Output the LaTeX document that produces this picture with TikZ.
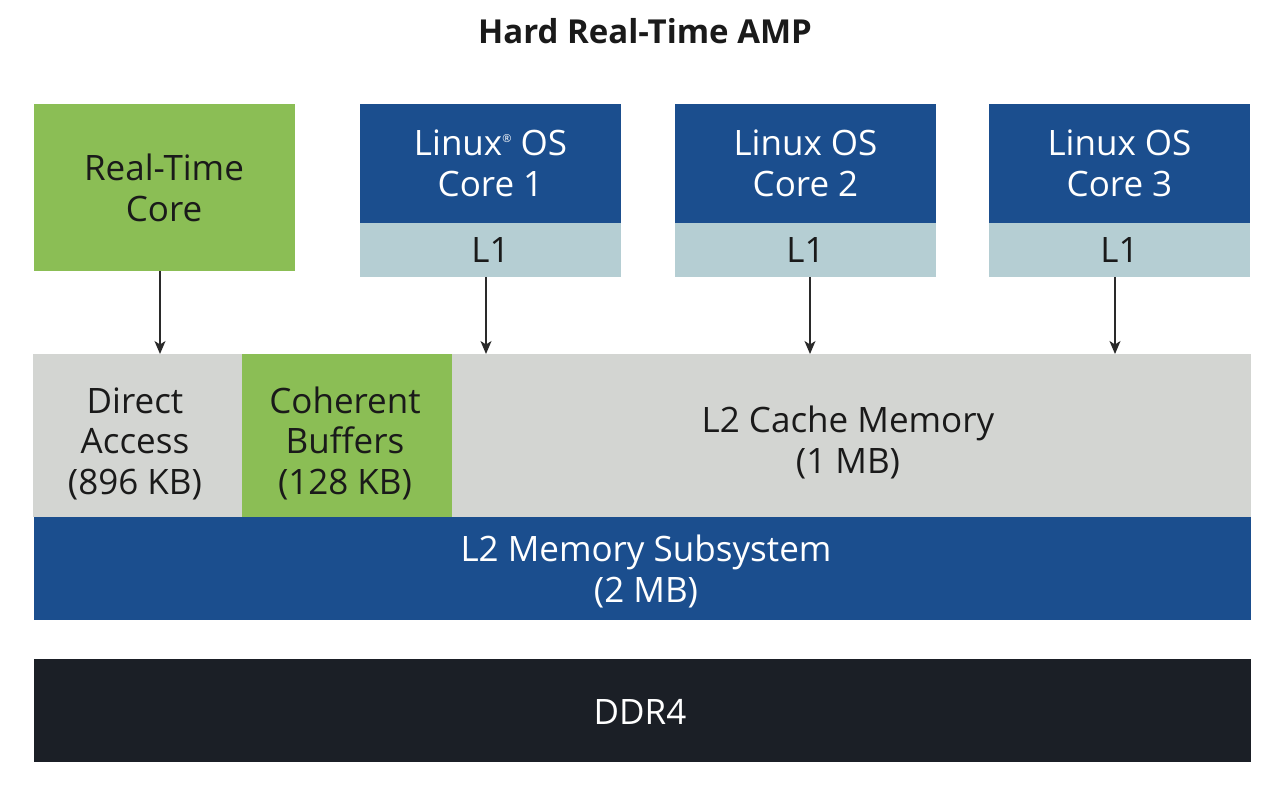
\documentclass[tikz,border=0pt]{standalone}
\usepackage{fontspec}
\setmainfont{Open Sans}
\usetikzlibrary{arrows.meta}
\definecolor{cblue}{HTML}{1B4E8E}
\definecolor{cgreen}{HTML}{8BBE55}
\definecolor{cgrey}{HTML}{D3D5D2}
\definecolor{cl1}{HTML}{B5CED3}
\definecolor{cddr}{HTML}{1B1F26}
\definecolor{ctext}{HTML}{1A1A1A}
\definecolor{carrow}{HTML}{2A2A2A}
\begin{document}
\begin{tikzpicture}[x=1pt,y=-1pt,
  box/.style={draw=none, inner sep=0pt, outer sep=0pt, anchor=north west},
  lbl/.style={inner sep=0pt, outer sep=0pt, align=center, anchor=base, font=\fontsize{35}{40.5}\selectfont},
  dark/.style={lbl, text=ctext},
  light/.style={lbl, text=white},
  arr/.style={draw=carrow, line width=1.5pt, -{Stealth[length=13pt,width=11pt,inset=3.5pt]}}]
\useasboundingbox (0,0) rectangle (1280,785);
% title
\node[inner sep=0pt, anchor=base, font=\fontsize{33}{38}\selectfont\bfseries, text=ctext] (title) at (645,43) {Hard Real-Time AMP};
% top row
\node[box, fill=cgreen, minimum width=261, minimum height=167] (rt) at (34,104) {};
\node[dark] (rtt) at (164,221) {Real-Time\\Core};
\foreach \i/\x in {1/360,2/675,3/989}{
  \node[box, fill=cblue, minimum width=261, minimum height=120] (c\i) at (\x,104) {};
  \node[box, fill=cl1, minimum width=261, minimum height=54] (l\i) at (\x,223) {};
  \node[dark] (l\i t) at (\x+130.5,262) {L1};
}
\node[light] (c1t) at (490.5,196) {Linux{\fontsize{11}{11}\selectfont\raisebox{13pt}{®}} OS\\Core 1};
\node[light] (c2t) at (805.5,196) {Linux OS\\Core 2};
\node[light] (c3t) at (1119.5,196) {Linux OS\\Core 3};
% middle
\node[box, fill=cgrey, minimum width=1218, minimum height=163] (grey) at (33,354) {};
\node[box, fill=cgreen, minimum width=210, minimum height=163] (coh) at (242,354) {};
\node[dark] (dat) at (135,494) {Direct\\Access\\(896 KB)};
\node[dark] (coht) at (345,494) {Coherent\\Buffers\\(128 KB)};
\node[dark] (l2c) at (848,473) {L2 Cache Memory\\(1 MB)};
\node[box, fill=cblue, minimum width=1217, minimum height=103] (l2s) at (34,517) {};
\node[light] (l2st) at (646,602) {L2 Memory Subsystem\\(2 MB)};
\node[box, fill=cddr, minimum width=1217, minimum height=103] (ddr) at (34,659) {};
\node[light] (ddrt) at (640,724) {DDR4};
% arrows
\draw[arr] ([xshift=-4.5pt]rt.south) -- ([xshift=-4.5pt]rt.south |- grey.north);
\draw[arr] ([xshift=-4.5pt]l1.south) -- ([xshift=-4.5pt]l1.south |- grey.north);
\draw[arr] ([xshift=4.5pt]l2.south) -- ([xshift=4.5pt]l2.south |- grey.north);
\draw[arr] ([xshift=-4.5pt]l3.south) -- ([xshift=-4.5pt]l3.south |- grey.north);
\end{tikzpicture}
\end{document}
